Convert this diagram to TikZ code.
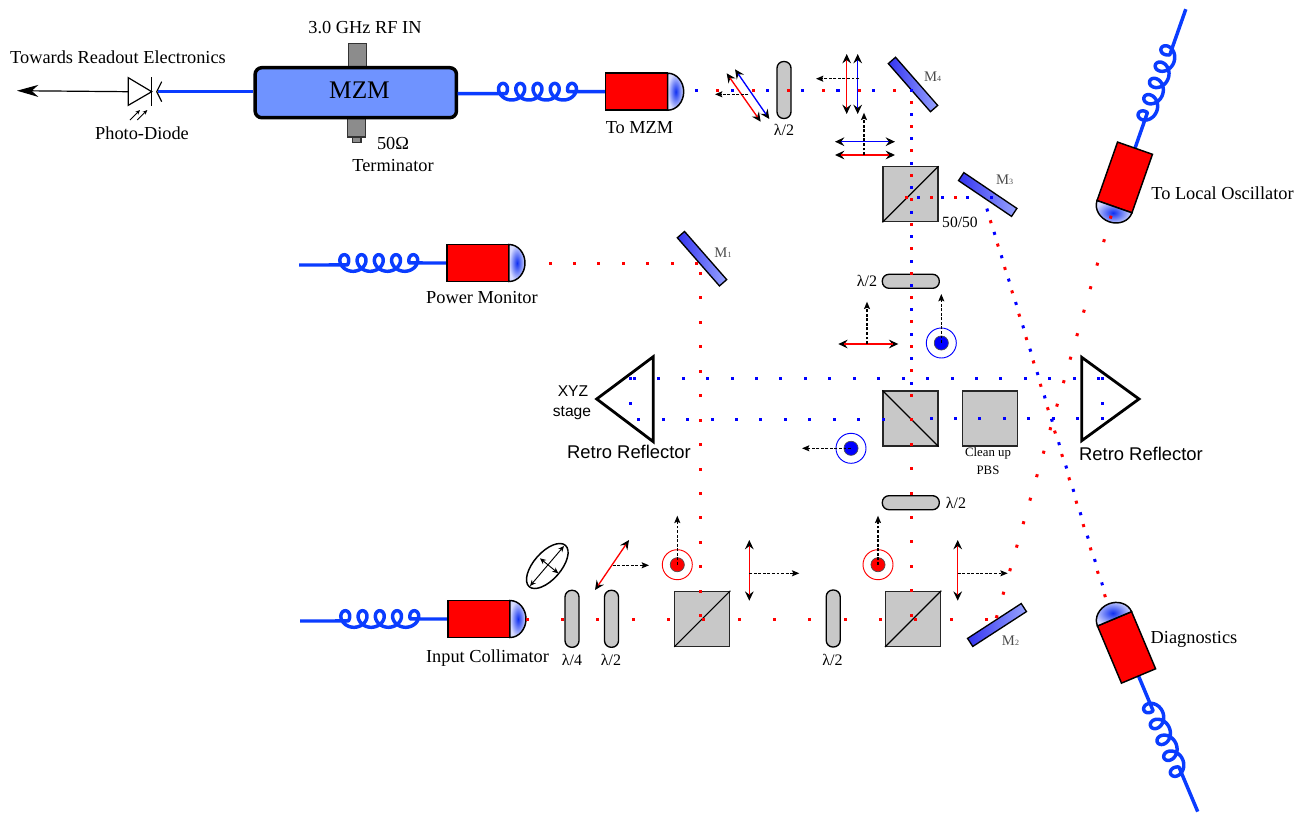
\documentclass[tikz,border=0pt]{standalone}
\usepackage{fontspec}
\setmainfont{Liberation Serif}
\setsansfont{Liberation Sans}
\usetikzlibrary{arrows.meta, calc}
\definecolor{colorFiber}{HTML}{0A3CFF}
\definecolor{colorMzm}{HTML}{6F93FF}
\definecolor{grisCube}{HTML}{C8C8C8}
\definecolor{grisPort}{HTML}{8C8C8C}
\definecolor{colorMirrorA}{HTML}{3434F0}
\definecolor{colorMirrorB}{HTML}{98A4FF}
\definecolor{colorLensA}{HTML}{1030F0}
\definecolor{colorLensB}{HTML}{D8DCFF}

\begin{document}
\begin{tikzpicture}[x=0.75pt, y=-0.75pt, font=\fontsize{13.75}{15}\selectfont,
        fiber/.style={colorFiber, line width=2.6pt, line join=round},
        port/.style={draw=black!80, fill=grisPort, line width=0.9pt, inner sep=0},
        cube/.style={draw=black!85, fill=grisCube, line width=0.9pt, minimum size=41.25pt, inner sep=0},
        plate/.style={draw=black, fill=grisCube, line width=1pt, rounded corners=5pt, inner sep=0},
        platev/.style={plate, minimum width=10.5pt, minimum height=42.75pt},
        plateh/.style={plate, minimum width=42.75pt, minimum height=10.5pt},
        mirror/.style={draw=black, line width=1pt, minimum width=48pt, minimum height=7.2pt, inner sep=0,
            left color=colorMirrorA, right color=colorMirrorB},
        mlabel/.style={font=\fontsize{11}{12}\selectfont, text=black!70},
        wp/.style={font=\fontsize{12}{13}\selectfont},
        rr/.style={font=\sffamily\fontsize{13.8}{15}\selectfont},
        xyz/.style={font=\sffamily\fontsize{11.7}{13}\selectfont},
        prism/.style={draw=black, line width=2.1pt, line join=miter},
        poltip/.style={-{Stealth[length=7pt, width=6.5pt, inset=2.4pt]}, line width=1pt},
        polsmall/.style={{Stealth[length=4.5pt, width=4pt, inset=1.5pt]}-{Stealth[length=4.5pt, width=4pt, inset=1.5pt]}, line width=0.7pt},
        prop/.style={-{Stealth[length=5.5pt, width=4.5pt, inset=1pt]}, line width=0.85pt, dash pattern=on 2.2pt off 1.2pt},
        dotsRed/.style={red, line width=2.25pt, line cap=rect},
        dotsBlue/.style={blue, line width=2.25pt, line cap=rect},
        wide/.style={dash pattern=on 0.01pt off 26.48pt},
        narrow/.style={dash pattern=on 0.01pt off 18.32pt},
        pics/collimator/.style={code={
            \draw[fiber] (-210,2) -- plot[domain=-1.81:26.70, samples=160] ({-164.7+2.745*\x-8.3*sin(\x r)},{-8.3*cos(\x r)}) -- (-62,0);
            \draw[black, fill=red, line width=1.1pt] (-62,-18.5) rectangle (0,18.5);
            \path[draw=black, line width=1.1pt, inner color=colorLensA, outer color=colorLensB]
                (0,-18.5) .. controls (9,-18.5) and (16,-10) .. (16,0) .. controls (16,10) and (9,18.5) .. (0,18.5) -- cycle;
        }}]
    \useasboundingbox (0,0) rectangle (1307,814);

    \node[port, minimum width=13.5pt, minimum height=18.5pt] (rfin) at (357.7,55.5) {};
    \node[port, minimum width=6.2pt, minimum height=5pt] (tcap) at (356.8,139.5) {};
    \node[port, minimum width=13.5pt, minimum height=15pt] (term) at (356.7,127) {};
    \node[draw=black, fill=colorMzm, line width=2.6pt, rounded corners=5pt, minimum width=151pt, minimum height=37.5pt, inner sep=0] (mzm) at (355.8,92.7) {};
    \node[font=\fontsize{19}{20}\selectfont] (mzmt) at (359.5,90.5) {MZM};

    \coordinate (pdin) at (158,91.7);
    \coordinate (readout) at (17,90.7);
    \draw[fiber] (pdin) -- (mzm.west |- pdin);
    \draw[-{Stealth[length=16pt, width=9pt, inset=5pt]}, line width=0.9pt] (128.3,91.7) -- (readout);
    \draw[fill=white, line width=0.9pt] (128.3,77.7) -- (128.3,105.3) -- (151.7,91.7) -- cycle;
    \draw[line width=0.9pt] (151.7,77) -- (151.7,105.5);
    \draw[line width=0.9pt] (161.7,81.7) -- (156.7,91.7) -- (161.7,101.7);
    \foreach \x in {130,137.3}
        \draw[-{Stealth[length=3.5pt, width=3pt]}, line width=0.7pt] (\x,120) -- ++(10,-10);

    \pic at (667.7,91.7) {collimator};
    \pic at (509,263) {collimator};
    \pic at (510,619) {collimator};
    \pic[rotate=250.7, yscale=-1] at (1114.5,206.7) {collimator};
    \pic[rotate=112.8] at (1114.5,618.8) {collimator};

    \node[platev] (w1) at (784,90) {};
    \node[plateh] (w2) at (910.8,281.3) {};
    \node[plateh] (w3) at (910.8,502.7) {};
    \node[platev] (w4) at (833.2,618.5) {};
    \node[platev] (w5) at (572,618.8) {};
    \node[platev] (w6) at (611.5,618.8) {};

    \node[cube] (bs1) at (910.5,194.3) {};
    \node[cube] (bs2) at (910.5,418.5) {};
    \node[cube] (bs3) at (989.7,418.5) {};
    \node[cube] (bs4) at (702.3,618.8) {};
    \node[cube] (bs5) at (913.2,618.8) {};
    \foreach \n in {bs1,bs4,bs5} \draw[line width=0.9pt] (\n.south west) -- (\n.north east);
    \draw[line width=0.9pt] (bs2.north west) -- (bs2.south east);

    \node[mirror, rotate=-48.8] (m1) at (702,258.7) {};
    \node[mirror, rotate=33] (m2) at (997,625) {};
    \node[mirror, rotate=-34] (m3) at (987.7,194.5) {};
    \node[mirror, rotate=-48.8] (m4) at (913,84.5) {};

    \draw[prism] (653.3,356.7) -- (653.3,441.7) -- (596.7,399) -- cycle;
    \draw[prism] (1081.7,357.3) -- (1081.7,440.7) -- (1139,399) -- cycle;

    \draw[dotsRed, wide] (527.3,619.3) -- (987.2,619.3);
    \draw[dotsRed, wide] (717.7,90) -- (894.5,90);
    \draw[dotsRed, narrow] (550,263.3) -- (697,263.3);
    \draw[dotsRed, narrow] (700.3,615.7) -- (700.3,273.2);
    \draw[dotsRed, narrow] (911.7,102) -- (911.7,616);
    \draw[dotsRed, narrow] (906.7,197.7) -- (979.4,197.7);
    \draw[dotsRed, narrow] (990.7,221.7) -- (1105.2,596.5);
    \draw[dotsRed, narrow] (996.7,616.7) -- (1110.9,216.5);
    \draw[dotsBlue, wide] (696.7,90) -- (908.5,90);
    \draw[dotsBlue, narrow] (911.7,90) -- (911.7,407.5);
    \draw[dotsBlue, narrow] (918.3,197.7) -- (992,197.7);
    \draw[dotsBlue, narrow] (987.3,210) -- (1109.2,607);
    \draw[dotsBlue, narrow] (634.3,378.7) -- (1099.5,378.7);
    \draw[dotsBlue, narrow] (1102.3,378.7) -- (1102.3,403.6);
    \draw[dotsBlue, narrow] (630.3,378.7) -- (630.3,403.6);
    \draw[dotsBlue, narrow] (638.7,419.7) -- (907.5,419.7);
    \draw[dotsBlue, narrow] (931,418.7) -- (1102.8,418.7);

    \foreach \a/\b/\c in {{726.7,73.3}/{760.7,121.7}/red, {735,69.3}/{769.3,119}/blue,
            {846.7,54}/{846.7,114}/red, {857.7,54}/{857.7,114}/blue,
            {835,141.7}/{895,141.7}/blue, {835,155}/{895,155}/red,
            {838.3,344}/{898.3,344}/red, {595,590}/{629,540}/red,
            {749.3,540}/{749.3,600.7}/red, {957.7,540}/{957.7,600.7}/red} {
        \draw[poltip] ($(\a)!5pt!(\b)$) -- (\a);
        \draw[poltip] ($(\b)!5pt!(\a)$) -- (\b);
        \draw[\c, line width=1pt, shorten >=4.2pt, shorten <=4.2pt] (\a) -- (\b);
    }
    \draw[polsmall] (530,586) -- (564,546);
    \draw[polsmall] (540,558.3) -- (558.3,573.3);
    \foreach \x/\y/\c in {941.3/343/blue, 851/448.3/blue, 677.3/564.7/red, 878/564.7/red} {
        \draw[\c, line width=0.7pt] (\x,\y) circle[radius=11.25pt];
        \draw[black!70, fill=\c, line width=0.5pt] (\x,\y) circle[radius=5.3pt];
    }
    \foreach \a/\b in {{748.3,94.3}/{715,94.3}, {859,78.7}/{816,78.7}, {864,155}/{864,112.7},
            {867,344}/{867,301.7}, {941.3,343}/{941.3,294}, {851,448.3}/{802,448.3},
            {677.3,564.7}/{677.3,515.7}, {878,564.7}/{878,515.7},
            {749.3,573.3}/{799.3,573.3}, {957.7,573.3}/{1007.7,573.3}, {612.7,565.3}/{649,565.3}}
        \draw[prop] (\a) -- (\b);
    \draw[line width=1.1pt, rotate around={48.7:(547.3,566)}] (547.3,566) circle[x radius=20.6pt, y radius=10.2pt];

    \node (t1) at (118,57) {Towards Readout Electronics};
    \node (t2) at (365,28) {3.0 GHz RF IN};
    \node (t3) at (142,133) {Photo-Diode};
    \node (t4) at (393,143) {50Ω};
    \node (t5) at (393,166) {Terminator};
    \node (t6) at (639.5,128) {To MZM};
    \node (t7) at (482,298) {Power Monitor};
    \node (t8) at (487.5,658) {Input Collimator};
    \node (t9) at (1222.5,193) {To Local Oscillator};
    \node (t10) at (1194,639.5) {Diagnostics};
    \node[font=\fontsize{11.7}{13}\selectfont] (t11) at (960,222) {50/50};
    \node[font=\fontsize{9.6}{11}\selectfont] (t12) at (988,453) {Clean up};
    \node[font=\fontsize{9.6}{11}\selectfont] (t13) at (988,470) {PBS};
    \node[wp] (l1) at (784,130) {λ/2};
    \node[wp] (l2) at (867,281) {λ/2};
    \node[wp] (l3) at (956,503) {λ/2};
    \node[wp] (l4) at (832.5,660) {λ/2};
    \node[wp] (l5) at (572,660) {λ/4};
    \node[wp] (l6) at (611,660) {λ/2};
    \foreach \n/\x/\y in {1/723/252.7, 2/1010.5/640.7, 3/1004.7/179.3, 4/932.7/76.7}
        \node[mlabel] (ml\n) at (\x,\y) {M{\fontsize{6}{6}\selectfont\n}};
    \node[rr] (r1) at (629,452) {Retro Reflector};
    \node[rr] (r2) at (1141,453.5) {Retro Reflector};
    \node[xyz] (x1) at (573,391) {XYZ};
    \node[xyz] (x2) at (572,413) {stage};
\end{tikzpicture}
\end{document}
